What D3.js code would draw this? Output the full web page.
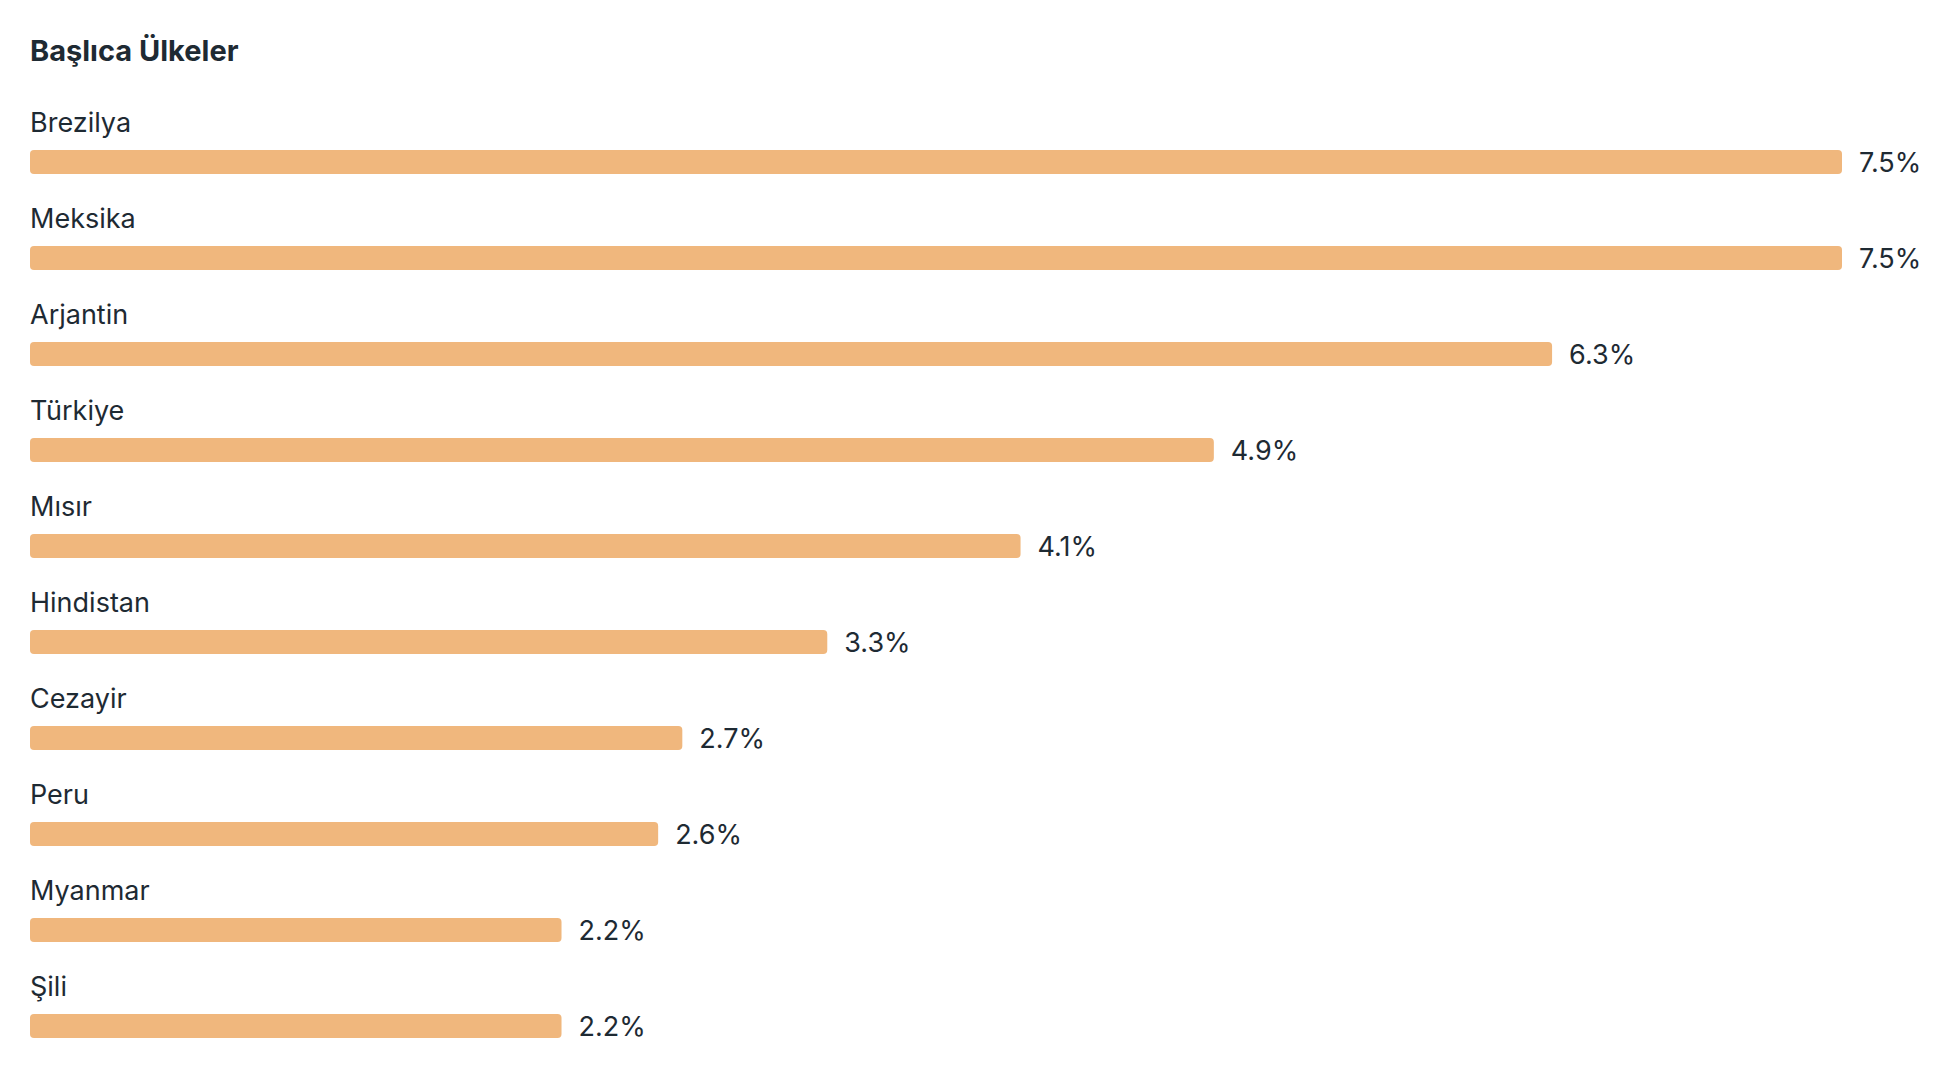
<!DOCTYPE html>
<html lang="tr">
<head>
<meta charset="utf-8">
<title>Başlıca Ülkeler</title>
<script src="https://cdn.jsdelivr.net/npm/d3@7"></script>
<style>
  html, body { margin: 0; padding: 0; background: #ffffff; }
  svg { display: block; font-family: Inter, "Noto Sans", sans-serif; }
</style>
</head>
<body>
<div id="chart"></div>
<script>
// veriler
var title = "Başlıca Ülkeler";
var countries = ["Brezilya", "Meksika", "Arjantin", "Türkiye", "Mısır", "Hindistan", "Cezayir", "Peru", "Myanmar", "Şili"];
var shares = [7.5, 7.5, 6.3, 4.9, 4.1, 3.3, 2.7, 2.6, 2.2, 2.2];

var w = 1958, h = 1076;
var left = 30, barMax = 1842;
var firstBar = 150, rowStep = 96, barH = 24;
var textColor = "#1e2a33";

var svg = d3.select("#chart").append("svg")
    .attr("width", w)
    .attr("height", h);

var x = d3.scaleLinear()
    .domain([0, d3.max(shares)])
    .range([left, barMax]);

var y = d3.scaleBand()
    .domain(countries)
    .range([firstBar, firstBar + rowStep * countries.length])
    .paddingInner(0);

svg.append("text")
    .attr("x", left)
    .attr("y", 61)
    .attr("font-size", "29px")
    .attr("font-weight", 700)
    .attr("fill", textColor)
    .text(title);

var rows = svg.selectAll("g.row")
    .data(countries)
    .enter()
    .append("g")
    .attr("class", "row");

// ülke adı (çubuğun üstünde)
rows.append("text")
    .attr("x", left)
    .attr("y", function(d){ return y(d) - 18; })
    .attr("font-size", "27px")
    .attr("fill", textColor)
    .text(function(d){ return d; });

// çubuklar
rows.append("rect")
    .attr("x", x(0))
    .attr("y", function(d){ return y(d); })
    .attr("width", function(d, i){ return x(shares[i]) - x(0); })
    .attr("height", barH)
    .attr("rx", 4)
    .attr("fill", "#f0b77d");

// yüzde değerleri
rows.append("text")
    .attr("x", function(d, i){ return x(shares[i]) + 17; })
    .attr("y", function(d){ return y(d) + barH / 2 + 10; })
    .attr("font-size", "27px")
    .attr("fill", textColor)
    .text(function(d, i){ return shares[i].toFixed(1) + "%"; });
</script>
</body>
</html>
